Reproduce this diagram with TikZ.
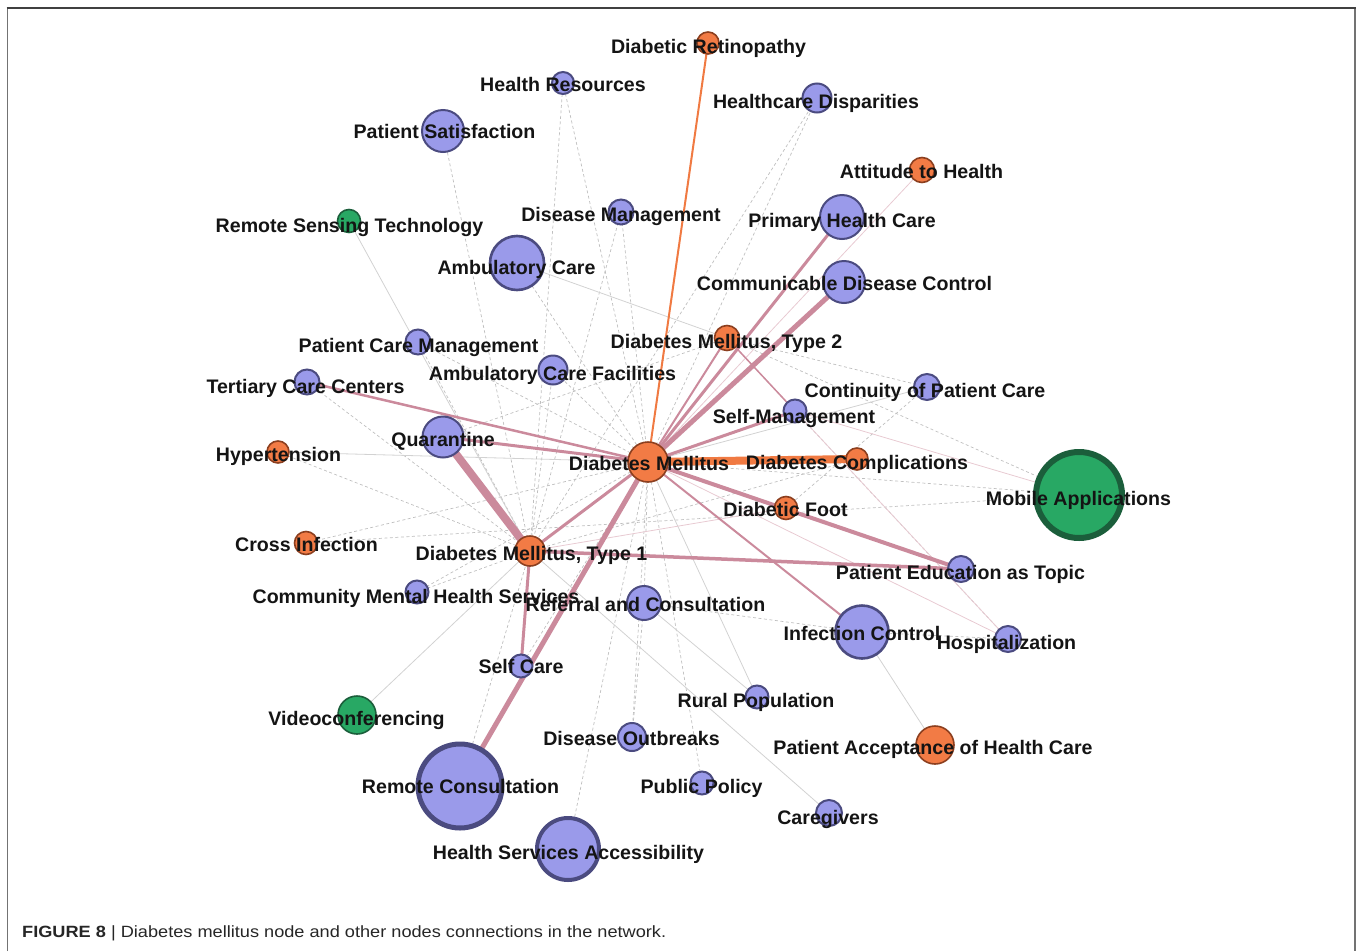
\documentclass[tikz,border=0pt]{standalone}
\usepackage{fontspec}
\setmainfont{Liberation Sans}
\usetikzlibrary{backgrounds}
\definecolor{nblue}{HTML}{9A9AEA}
\definecolor{nblueb}{HTML}{4B4B80}
\definecolor{norange}{HTML}{F27B45}
\definecolor{norangeb}{HTML}{8C3F1F}
\definecolor{ngreen}{HTML}{28A864}
\definecolor{ngreenb}{HTML}{1B5E3B}
\definecolor{emauve}{HTML}{CB8A9C}
\definecolor{eorange}{HTML}{F07A42}
\begin{document}
\begin{tikzpicture}[x=1pt,y=-1pt,
  bn/.style={circle, fill=nblue, draw=nblueb, line width=2pt, inner sep=0pt},
  on/.style={circle, fill=norange, draw=norangeb, line width=1.6pt, inner sep=0pt},
  gn/.style={circle, fill=ngreen, draw=ngreenb, line width=1.6pt, inner sep=0pt},
  lbl/.style={font=\bfseries\fontsize{19.6}{21}\selectfont, inner sep=0pt, anchor=base, yshift=-6.7pt, text=black!92},
  me/.style={draw=emauve, line cap=round},
  oe/.style={draw=eorange, line cap=round},
  le/.style={draw=gray!35, line width=0.8pt},
  pe/.style={draw=emauve!45, line width=0.8pt},
  de/.style={draw=gray!50, line width=0.7pt, dash pattern=on 3pt off 2.5pt}]
\useasboundingbox (0,0) rectangle (1358,951);
% frame
\draw[draw=black!55, line width=1.6pt] (7.5,951) -- (7.5,8);
\draw[draw=black!55, line width=1.6pt] (1355,8) -- (1355,951);
\draw[draw=black!75, line width=2pt] (6.7,8) -- (1355.8,8);
% nodes
\node[on, minimum size=22pt] (DR) at (708,43) {};
\node[bn, minimum size=22pt] (HR) at (563,83) {};
\node[bn, minimum size=29pt] (HD) at (817,98) {};
\node[bn, minimum size=42pt] (PS) at (443,131) {};
\node[on, minimum size=25pt] (AH) at (922,170) {};
\node[gn, minimum size=23pt] (RST) at (349,221) {};
\node[bn, minimum size=25pt] (DMg) at (621,212) {};
\node[bn, minimum size=44pt] (PHC) at (842,217) {};
\node[bn, minimum size=54pt, line width=2.6pt] (AC) at (517,263) {};
\node[bn, minimum size=42pt] (CDC) at (844,282) {};
\node[bn, minimum size=25pt] (PCM) at (418,342) {};
\node[on, minimum size=25pt] (T2) at (727,338) {};
\node[bn, minimum size=29pt] (ACF) at (553,370) {};
\node[bn, minimum size=25pt] (TCC) at (307,382) {};
\node[bn, minimum size=26pt] (CPC) at (927,387) {};
\node[bn, minimum size=23pt] (SM) at (795,411) {};
\node[bn, minimum size=41pt] (Q) at (443,437) {};
\node[on, minimum size=22pt] (HT) at (278,452) {};
\node[on, minimum size=40pt] (DM) at (648,462) {};
\node[on, minimum size=22pt] (DC) at (857,459) {};
\node[gn, minimum size=86pt, line width=6pt] (MA) at (1079,495) {};
\node[on, minimum size=23pt] (DF) at (786,508) {};
\node[on, minimum size=23pt] (CI) at (306,543) {};
\node[on, minimum size=30pt] (T1) at (530,551) {};
\node[bn, minimum size=26pt] (PET) at (961,569) {};
\node[bn, minimum size=23pt] (CMHS) at (417,592) {};
\node[bn, minimum size=34pt] (RFC) at (644,603) {};
\node[bn, minimum size=53pt, line width=2.6pt] (IC) at (862,632) {};
\node[bn, minimum size=26pt] (HOS) at (1008,639) {};
\node[bn, minimum size=23pt] (SC) at (521,666) {};
\node[bn, minimum size=23pt] (RP) at (757,697) {};
\node[gn, minimum size=38pt] (VC) at (357,715) {};
\node[bn, minimum size=28pt] (DO) at (632,737) {};
\node[on, minimum size=38pt] (PAHC) at (935,745) {};
\node[bn, minimum size=84pt, line width=5pt] (RC) at (460,786) {};
\node[bn, minimum size=23pt] (PP) at (702,783) {};
\node[bn, minimum size=26pt] (CG) at (829,813) {};
\node[bn, minimum size=62pt, line width=4pt] (HSA) at (568,849) {};
% edges
\begin{pgfonlayer}{background}
% dashed light
\foreach \a/\b in {HR/DM, HR/T1, PS/T1, DMg/DM, DMg/T1, AC/DM, HD/DM, HD/T1, CPC/T2, MA/T2, MA/CI, MA/DM,
  PCM/DM, PCM/T1, ACF/DM, ACF/T1, CI/DM, CMHS/DM, CMHS/T1, RC/T1, HSA/DM, DO/RFC, DO/DM, PP/DM, IC/HOS,
  RFC/DM, SC/DM, RFC/IC, HT/T1, Q/T2, TCC/T1, SM/HOS, DC/T1, CPC/DF}
  \draw[de] (\a.center) -- (\b.center);
% light solid
\foreach \a/\b in {HT/DM, VC/T1, PAHC/IC, CG/T1, RP/DM, CPC/DM, AC/T2, RST/T1, RP/RFC}
  \draw[le] (\a.center) -- (\b.center);
\foreach \a/\b in {AH/DM, HOS/T2, HOS/DM, DF/T1, MA/SM}
  \draw[pe] (\a.center) -- (\b.center);
% strong
\draw[me, line width=8pt] (Q.center) -- (T1.center);
\draw[me, line width=3pt] (Q.center) -- (DM.center);
\draw[me, line width=2.5pt] (TCC.center) -- (DM.center);
\draw[me, line width=3pt] (T1.center) -- (DM.center);
\draw[me, line width=5pt] (RC.center) -- (DM.center);
\draw[me, line width=3pt] (T1.center) -- (SC.center);
\draw[me, line width=3.5pt] (T1.center) -- (PET.center);
\draw[me, line width=4pt] (DM.center) -- (PET.center);
\draw[me, line width=2pt] (DM.center) -- (IC.center);
\draw[me, line width=5pt] (DM.center) -- (CDC.center);
\draw[me, line width=3pt] (DM.center) -- (PHC.center);
\draw[me, line width=3pt] (DM.center) -- (SM.center);
\draw[me, line width=2pt] (DM.center) -- (T2.center);
\draw[me, line width=1.5pt] (T2.center) -- (SM.center);
\draw[oe, line width=8pt] (DM.center) -- (DC.center);
\draw[oe, line width=2pt] (DM.center) -- (DR.center);
\end{pgfonlayer}
% labels
\node[lbl] (lDR) at (708.5,47) {Diabetic Retinopathy};
\node[lbl] (lHR) at (563,85) {Health Resources};
\node[lbl] (lHD) at (816,102) {Healthcare Disparities};
\node[lbl] (lPS) at (444.5,132) {Patient Satisfaction};
\node[lbl] (lAH) at (921.5,172) {Attitude to Health};
\node[lbl] (lRST) at (349.5,226) {Remote Sensing Technology};
\node[lbl] (lDMg) at (621,215) {Disease Management};
\node[lbl] (lPHC) at (842,221) {Primary Health Care};
\node[lbl] (lAC) at (516.5,268) {Ambulatory Care};
\node[lbl] (lCDC) at (844.5,284) {Communicable Disease Control};
\node[lbl] (lPCM) at (418.5,346) {Patient Care Management};
\node[lbl] (lT2) at (726.5,342) {Diabetes Mellitus, Type 2};
\node[lbl] (lACF) at (552.5,374) {Ambulatory Care Facilities};
\node[lbl] (lTCC) at (305.5,387) {Tertiary Care Centers};
\node[lbl] (lCPC) at (925,391) {Continuity of Patient Care};
\node[lbl] (lSM) at (794,417) {Self-Management};
\node[lbl] (lQ) at (443,440) {Quarantine};
\node[lbl] (lHT) at (278.5,455) {Hypertension};
\node[lbl] (lDM) at (649,464) {Diabetes Mellitus};
\node[lbl] (lDC) at (857,463) {Diabetes Complications};
\node[lbl] (lMA) at (1078.5,499) {Mobile Applications};
\node[lbl] (lDF) at (785.5,510) {Diabetic Foot};
\node[lbl] (lCI) at (306.5,545) {Cross Infection};
\node[lbl] (lT1) at (531.5,554) {Diabetes Mellitus, Type 1};
\node[lbl] (lPET) at (960.5,573) {Patient Education as Topic};
\node[lbl] (lCMHS) at (416,597) {Community Mental Health Services};
\node[lbl] (lRFC) at (645.5,605) {Referral and Consultation};
\node[lbl] (lIC) at (862,634) {Infection Control};
\node[lbl] (lHOS) at (1006.5,643) {Hospitalization};
\node[lbl] (lSC) at (521,667) {Self Care};
\node[lbl] (lRP) at (756,701) {Rural Population};
\node[lbl] (lVC) at (356.5,719) {Videoconferencing};
\node[lbl] (lDO) at (631.5,739) {Disease Outbreaks};
\node[lbl] (lPAHC) at (933,748) {Patient Acceptance of Health Care};
\node[lbl] (lRC) at (460.5,787) {Remote Consultation};
\node[lbl] (lPP) at (701.5,787) {Public Policy};
\node[lbl] (lCG) at (828,818) {Caregivers};
\node[lbl] (lHSA) at (568.5,853) {Health Services Accessibility};
% caption
\node[anchor=base west, inner sep=0pt, font=\fontsize{16.3}{18}\selectfont, text=black!85] (cap) at (22,937)
  {\resizebox{644pt}{\height}{\textbf{FIGURE 8} | Diabetes mellitus node and other nodes connections in the network.}};
\end{tikzpicture}
\end{document}
